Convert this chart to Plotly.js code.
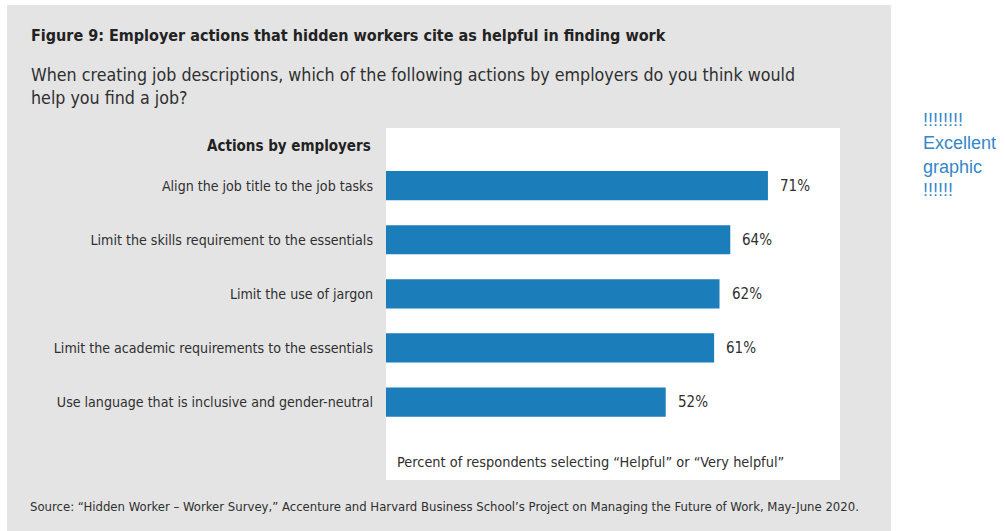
<!DOCTYPE html>
<html>
<head>
<meta charset="utf-8">
<script src="https://cdn.plot.ly/plotly-3.0.1.min.js"></script>
<style>html,body{margin:0;padding:0;background:#fff;}#chart{width:1005px;height:531px;}</style>
</head>
<body>
<div id="chart"></div>
<script>
// ---- data ----
const categories = [
  "Align the job title to the job tasks",
  "Limit the skills requirement to the essentials",
  "Limit the use of jargon",
  "Limit the academic requirements to the essentials",
  "Use language that is inclusive and gender-neutral"
];
const values = [71, 64, 62, 61, 52];
const valueLabels = ["71%", "64%", "62%", "61%", "52%"];
const titleText = "Figure 9: Employer actions that hidden workers cite as helpful in finding work";
const subtitleLines = [
  "When creating job descriptions, which of the following actions by employers do you think would",
  "help you find a job?"
];
const headerText = "Actions by employers";
const axisNote = "Percent of respondents selecting \u201cHelpful\u201d or \u201cVery helpful\u201d";
const sourceText = "Source: \u201cHidden Worker \u2013 Worker Survey,\u201d Accenture and Harvard Business School\u2019s Project on Managing the Future of Work, May-June 2020.";
const sideNote = ["!!!!!!!!", "Excellent", "graphic", "!!!!!!"];

// ---- layout geometry ----
const W = 1005, H = 531;
const ML = 386, MR = 165, MT = 128, MB = 51;
const PW = W - ML - MR, PH = H - MT - MB;
const px = v => (v - ML) / PW;
const py = v => (H - MB - v) / PH;

const FONT = "'Liberation Sans Narrow', 'DejaVu Sans Condensed', 'Roboto', sans-serif";
const TXT = "#2f2f2f";
const BAR = "#1b7db9";
const GRAY = "#e4e4e4";

const trace = {
  type: "bar",
  orientation: "h",
  y: categories,
  x: values,
  marker: {color: BAR},
  width: 0.54,
  hoverinfo: "skip"
};

const annotations = [];
values.forEach((v, i) => {
  annotations.push({
    x: v, y: categories[i], xref: "x", yref: "y",
    text: valueLabels[i], showarrow: false, xanchor: "left", xshift: 10,
    font: {family: FONT, size: 15, color: TXT}
  });
});
annotations.push({x: px(29), y: py(36), xref: "paper", yref: "paper", text: "<b>" + titleText + "</b>",
  showarrow: false, xanchor: "left", yanchor: "middle", font: {family: FONT, size: 16, color: "#222"}});
annotations.push({x: px(29), y: py(75), xref: "paper", yref: "paper", text: subtitleLines[0],
  showarrow: false, xanchor: "left", yanchor: "middle", font: {family: FONT, size: 17.7, color: TXT}});
annotations.push({x: px(29), y: py(98), xref: "paper", yref: "paper", text: subtitleLines[1],
  showarrow: false, xanchor: "left", yanchor: "middle", font: {family: FONT, size: 17.7, color: TXT}});
annotations.push({x: px(373), y: py(146), xref: "paper", yref: "paper", text: "<b>" + headerText + "</b>",
  showarrow: false, xanchor: "right", yanchor: "middle", font: {family: FONT, size: 15, color: "#222"}});
annotations.push({x: px(395), y: py(462), xref: "paper", yref: "paper", text: axisNote,
  showarrow: false, xanchor: "left", yanchor: "middle", font: {family: FONT, size: 14.4, color: TXT}});
annotations.push({x: px(28), y: py(506), xref: "paper", yref: "paper", text: sourceText,
  showarrow: false, xanchor: "left", yanchor: "middle", font: {family: FONT, size: 13, color: TXT}});
annotations.push({x: px(921), y: py(155), xref: "paper", yref: "paper", text: sideNote.join("<br>"),
  showarrow: false, xanchor: "left", yanchor: "middle", align: "left",
  font: {family: "'Liberation Sans', Arial, sans-serif", size: 18, color: "#3487c8"}});

const layout = {
  width: W, height: H,
  margin: {l: ML, r: MR, t: MT, b: MB, pad: 0},
  paper_bgcolor: "#ffffff",
  plot_bgcolor: "rgba(0,0,0,0)",
  showlegend: false,
  xaxis: {range: [0, 84.4], showgrid: false, zeroline: false, showticklabels: false, ticks: "", fixedrange: true},
  yaxis: {type: "category", range: [5.44, -1.065], showgrid: false, zeroline: false, ticks: "",
          ticklabelstandoff: 12, tickfont: {family: FONT, size: 14.1, color: TXT}, fixedrange: true},
  shapes: [
    {type: "rect", xref: "paper", yref: "paper", x0: px(7), x1: px(891), y0: py(531), y1: py(5),
     fillcolor: GRAY, line: {width: 0}, layer: "below"},
    {type: "rect", xref: "paper", yref: "paper", x0: 0, x1: 1, y0: 0, y1: 1,
     fillcolor: "#ffffff", line: {width: 0}, layer: "below"}
  ],
  annotations: annotations
};

Plotly.newPlot("chart", [trace], layout, {displayModeBar: false, staticPlot: true});
</script>
</body>
</html>
